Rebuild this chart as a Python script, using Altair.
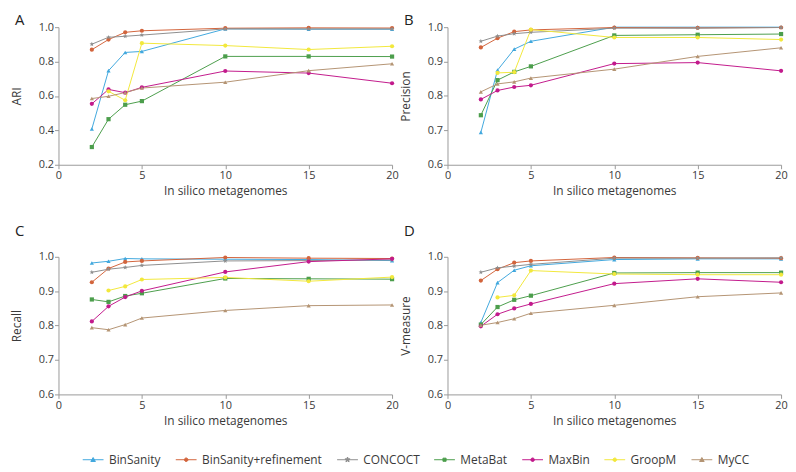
import math
import altair as alt
import pandas as pd

# ---------------- data ----------------
methods = ["BinSanity", "BinSanity+refinement", "CONCOCT", "MetaBat", "MaxBin", "GroopM", "MyCC"]
colors = ["#41A8DE", "#D2643C", "#8E8E8E", "#4C9E4C", "#C21A8C", "#F2E83C", "#B49473"]
x_vals = [2, 3, 4, 5, 10, 15, 20]
x_ticks = [0, 5, 10, 15, 20]
y_ticks_ari = [0.2, 0.4, 0.6, 0.8, 1.0]
y_ticks_other = [0.6, 0.7, 0.8, 0.9, 1.0]

ari = {
    "BinSanity":            [0.408, 0.747, 0.853, 0.859, 0.990, 0.988, 0.988],
    "BinSanity+refinement": [0.869, 0.928, 0.970, 0.979, 0.994, 0.996, 0.995],
    "CONCOCT":              [0.901, 0.941, 0.947, 0.954, 0.990, 0.990, 0.990],
    "MetaBat":              [0.303, 0.465, 0.549, 0.570, 0.830, 0.830, 0.829],
    "MaxBin":               [0.554, 0.638, 0.619, 0.650, 0.745, 0.733, 0.674],
    "GroopM":               [None, 0.627, 0.575, 0.907, 0.893, 0.870, 0.889],
    "MyCC":                 [0.585, 0.598, 0.620, 0.646, 0.680, 0.747, 0.787],
}
precision = {
    "BinSanity":            [0.694, 0.875, 0.936, 0.959, 1.000, 1.000, 1.000],
    "BinSanity+refinement": [0.941, 0.968, 0.987, 0.992, 0.999, 0.998, 0.999],
    "CONCOCT":              [0.959, 0.974, 0.981, 0.985, 0.997, 0.997, 0.999],
    "MetaBat":              [0.744, 0.846, 0.870, 0.886, 0.976, 0.978, 0.980],
    "MaxBin":               [0.790, 0.816, 0.826, 0.831, 0.894, 0.897, 0.873],
    "GroopM":               [None, 0.867, 0.869, 0.993, 0.970, 0.970, 0.964],
    "MyCC":                 [0.812, 0.835, 0.841, 0.852, 0.878, 0.915, 0.940],
}
recall = {
    "BinSanity":            [0.982, 0.987, 0.995, 0.994, 0.993, 0.992, 0.989],
    "BinSanity+refinement": [0.926, 0.966, 0.985, 0.988, 0.998, 0.996, 0.995],
    "CONCOCT":              [0.955, 0.964, 0.969, 0.975, 0.988, 0.989, 0.991],
    "MetaBat":              [0.876, 0.869, 0.886, 0.894, 0.937, 0.936, 0.935],
    "MaxBin":               [0.812, 0.856, 0.883, 0.901, 0.956, 0.986, 0.994],
    "GroopM":               [None, 0.902, 0.914, 0.934, 0.940, 0.929, 0.941],
    "MyCC":                 [0.794, 0.788, 0.803, 0.822, 0.844, 0.858, 0.860],
}
vmeasure = {
    "BinSanity":            [0.809, 0.925, 0.961, 0.974, 0.992, 0.994, 0.994],
    "BinSanity+refinement": [0.931, 0.964, 0.983, 0.988, 0.998, 0.997, 0.996],
    "CONCOCT":              [0.955, 0.968, 0.973, 0.978, 0.996, 0.996, 0.997],
    "MetaBat":              [0.803, 0.854, 0.875, 0.887, 0.953, 0.954, 0.954],
    "MaxBin":               [0.798, 0.833, 0.850, 0.863, 0.922, 0.936, 0.926],
    "GroopM":               [None, 0.882, 0.888, 0.960, 0.950, 0.948, 0.948],
    "MyCC":                 [0.801, 0.809, 0.820, 0.836, 0.859, 0.884, 0.895],
}

# ---------------- styles ----------------
FONT = "Open Sans"
TEXT_COLOR = "#3a3a3a"


def star_path(r_out, r_in):
    pts = []
    for k in range(10):
        ang = math.radians(-90 + 36 * k)
        r = r_out if k % 2 == 0 else r_in
        pts.append(f"{r * math.cos(ang):.3f},{r * math.sin(ang):.3f}")
    return "M" + "L".join(pts) + "Z"


marker_shapes = ["triangle-up", "circle", star_path(1.15, 0.5), "square", "circle", "circle", "triangle-up"]

seg = "M-1,0L1,0"
leg_tri = "M-0.22,0.17L0,-0.21L0.22,0.17Z"
leg_circ = "M-0.17,0A0.17,0.17 0 1,0 0.17,0A0.17,0.17 0 1,0 -0.17,0Z"
leg_sq = "M-0.15,-0.15L0.15,-0.15L0.15,0.15L-0.15,0.15Z"
leg_star = star_path(0.26, 0.11)
legend_shapes = [seg + leg_tri, seg + leg_circ, seg + leg_star, seg + leg_sq,
                 seg + leg_circ, seg + leg_circ, seg + leg_tri]

W, H = 337, 139


def panel(values, metric, letter, ymin, yticks, title_offset):
    rows = []
    for m in methods:
        for xv, v in zip(x_vals, values[m]):
            if v is not None:
                rows.append({"method": m, "x": xv, "value": v})
    df = pd.DataFrame(rows)
    base = alt.Chart(df)
    x = alt.X("x:Q", scale=alt.Scale(domain=[0, 20], nice=False, zero=False),
              axis=alt.Axis(values=x_ticks, title="In silico metagenomes", format="d"))
    y = alt.Y("value:Q", scale=alt.Scale(domain=[ymin, 1.0], nice=False, zero=False),
              axis=alt.Axis(values=yticks, title=metric, format=".1f"))
    color = alt.Color("method:N", scale=alt.Scale(domain=methods, range=colors), legend=None)
    line = base.mark_line(strokeWidth=1).encode(x=x, y=y, color=color)
    pts = base.mark_point(filled=True, size=18, opacity=1).encode(
        x=x, y=y, color=color,
        shape=alt.Shape("method:N", scale=alt.Scale(domain=methods, range=marker_shapes), legend=None),
    )
    return alt.layer(line, pts).properties(
        width=W, height=H,
        title=alt.TitleParams(text=letter, anchor="start", frame="group", dx=-44,
                              offset=title_offset, fontSize=15, fontWeight="normal",
                              font=FONT, color="#222222"),
    )


pA = panel(ari, "ARI", "A", 0.2, y_ticks_ari, -7)
pB = panel(precision, "Precision", "B", 0.6, y_ticks_other, -7)
pC = panel(recall, "Recall", "C", 0.6, y_ticks_other, 12)
pD = panel(vmeasure, "V-measure", "D", 0.6, y_ticks_other, 12)

leg = alt.Legend(title=None, orient="none", legendX=24, legendY=18, direction="horizontal",
                 symbolSize=441, symbolStrokeWidth=1, symbolOpacity=1,
                 labelFont=FONT, labelFontSize=12, labelColor=TEXT_COLOR,
                 labelOffset=5, columnPadding=12)
legend_df = pd.DataFrame({"method": methods})
legend_chart = alt.Chart(legend_df).mark_point(filled=True, opacity=0, strokeWidth=1).encode(
    fill=alt.Fill("method:N", scale=alt.Scale(domain=methods, range=colors), legend=leg),
    stroke=alt.Stroke("method:N", scale=alt.Scale(domain=methods, range=colors), legend=leg),
    shape=alt.Shape("method:N", scale=alt.Scale(domain=methods, range=legend_shapes), legend=leg),
).properties(width=1, height=1)

grid = alt.vconcat(
    alt.hconcat(pA, pB, spacing=0),
    alt.hconcat(pC, pD, spacing=0),
    spacing=28,
)

chart = (
    alt.vconcat(grid, legend_chart, spacing=4)
    .resolve_scale(shape="independent", fill="independent", stroke="independent")
    .properties(padding={"left": 2, "top": 3, "right": 0, "bottom": 0})
    .configure_view(stroke=None)
    .configure_axis(
        grid=False, labelFont=FONT, labelFontSize=11, labelColor=TEXT_COLOR,
        titleFont=FONT, titleFontSize=12, titleFontWeight="normal", titleColor=TEXT_COLOR,
        domainColor="#9a9a9a", tickColor="#9a9a9a", tickSize=4, labelPadding=1,
        labelFlush=False, labelOverlap=False,
    )
    .configure_axisX(titlePadding=5)
    .configure_axisY(titlePadding=15)
)

chart.save("out.html", embed_options={"renderer": "svg", "actions": False})
